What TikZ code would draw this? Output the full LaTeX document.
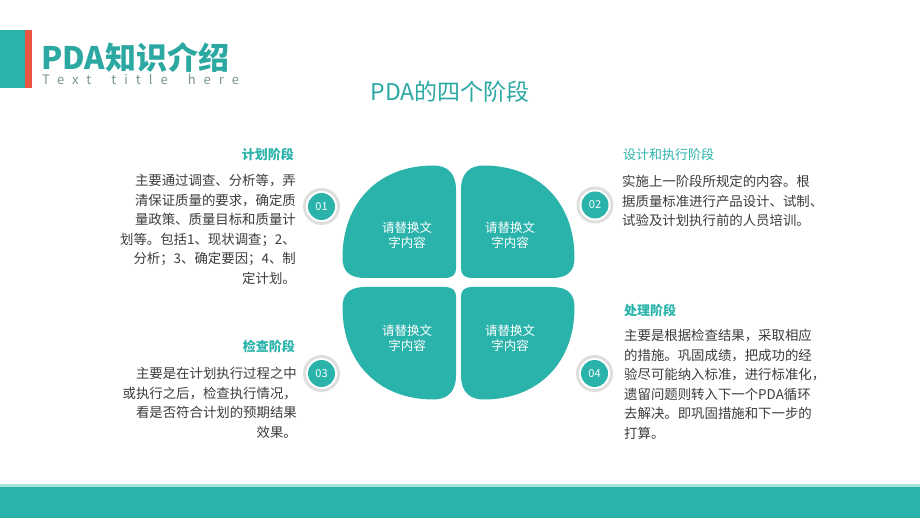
\documentclass[tikz,border=0pt]{standalone}
\usepackage{fontspec}
\setmainfont{Noto Sans CJK SC}
\definecolor{tealmain}{RGB}{42,179,170}
\definecolor{tealtitle}{RGB}{44,168,162}
\definecolor{redstrip}{RGB}{232,84,64}
\definecolor{ringgray}{RGB}{222,222,222}
\definecolor{bodytext}{RGB}{60,60,60}
\definecolor{subgray}{RGB}{120,150,148}
\definecolor{barline}{RGB}{170,225,221}
\begin{document}
\begin{tikzpicture}[x=1pt,y=-1pt,
  petaltext/.style={align=center,text=white,font=\fontsize{12.5}{15}\selectfont,inner sep=0pt},
  numdot/.style={circle,fill=tealmain,text=white,minimum size=27pt,inner sep=0pt,font=\fontsize{11}{11}\selectfont},
  stagehead/.style={text=tealmain,font=\fontsize{13}{15}\selectfont\bfseries,inner sep=0pt},
  stagebody/.style={text=bodytext,font=\fontsize{13.4}{19.5}\selectfont,inner sep=0pt}]
\useasboundingbox (0,0) rectangle (920,518);
\fill[white] (0,0) rectangle (920,518);
% header
\fill[tealmain] (0,30) rectangle (25,88);
\fill[redstrip] (25,30) rectangle (32,88);
\node[anchor=west,inner sep=0pt,text=tealtitle,font=\fontsize{31}{31}\selectfont\bfseries] (title) at (41,57) {PDA知识介绍};
\node[anchor=west,inner sep=0pt,text=subgray,font=\fontsize{13}{13}\selectfont\addfontfeature{LetterSpace=62}] (subtitle) at (42,79) {Text\hspace{9pt} title\hspace{9pt} here};
\node[inner sep=0pt,text=tealtitle,font=\fontsize{23}{23}\selectfont] (heading) at (450,92) {PDA的四个阶段};
% four petals
\foreach \sx/\sy in {1/1,-1/1,1/-1,-1/-1}{
  \begin{scope}[shift={(458.5,282.5)},xscale=\sx,yscale=\sy]
  \fill[tealmain] (-2.5,-14) -- (-2.5,-93) .. controls (-2.5,-110) and (-12,-117) .. (-25,-117)
    .. controls (-80,-117) and (-116,-80) .. (-116,-25)
    .. controls (-116,-12) and (-110,-4.5) .. (-93,-4.5) -- (-14,-4.5)
    .. controls (-6,-4.5) and (-2.5,-8) .. cycle;
  \end{scope}
}
\node[petaltext] (p1) at (407,235.5) {请替换文\\字内容};
\node[petaltext] (p2) at (510,235.5) {请替换文\\字内容};
\node[petaltext] (p3) at (407,338) {请替换文\\字内容};
\node[petaltext] (p4) at (510,338) {请替换文\\字内容};
% number dots
\foreach \n/\px/\py in {01/321.5/206.5,02/595/205,03/321.5/373.5,04/594.5/373.5}{
  \fill[ringgray] (\px,\py) circle (18.5);
  \fill[white] (\px,\py) circle (15.5);
  \node[numdot] (dot\n) at (\px,\py) {\n};
}
% stage texts
\node[stagehead,anchor=east] (h1) at (294,154) {计划阶段};
\node[stagebody,anchor=north east,align=right] (b1) at (296,174) {主要通过调查、分析等，弄\\清保证质量的要求，确定质\\量政策、质量目标和质量计\\划等。包括1、现状调查；2、\\分析；3、确定要因；4、制\\定计划。};
\node[stagehead,anchor=west,font=\fontsize{13}{15}\selectfont] (h2) at (623,155) {设计和执行阶段};
\node[stagebody,anchor=north west,align=left] (b2) at (622,175) {实施上一阶段所规定的内容。根\\据质量标准进行产品设计、试制、\\试验及计划执行前的人员培训。};
\node[stagehead,anchor=east] (h3) at (295,346) {检查阶段};
\node[stagebody,anchor=north east,align=right] (b3) at (297,367) {主要是在计划执行过程之中\\或执行之后，检查执行情况，\\看是否符合计划的预期结果\\效果。};
\node[stagehead,anchor=west] (h4) at (624,311) {处理阶段};
\node[stagebody,anchor=north west,align=left] (b4) at (624,329) {主要是根据检查结果，采取相应\\的措施。巩固成绩，把成功的经\\验尽可能纳入标准，进行标准化，\\遗留问题则转入下一个PDA循环\\去解决。即巩固措施和下一步的\\打算。};
% bottom bar
\fill[barline] (0,484) rectangle (920,487);
\fill[tealmain] (0,487) rectangle (920,518);
\end{tikzpicture}
\end{document}
